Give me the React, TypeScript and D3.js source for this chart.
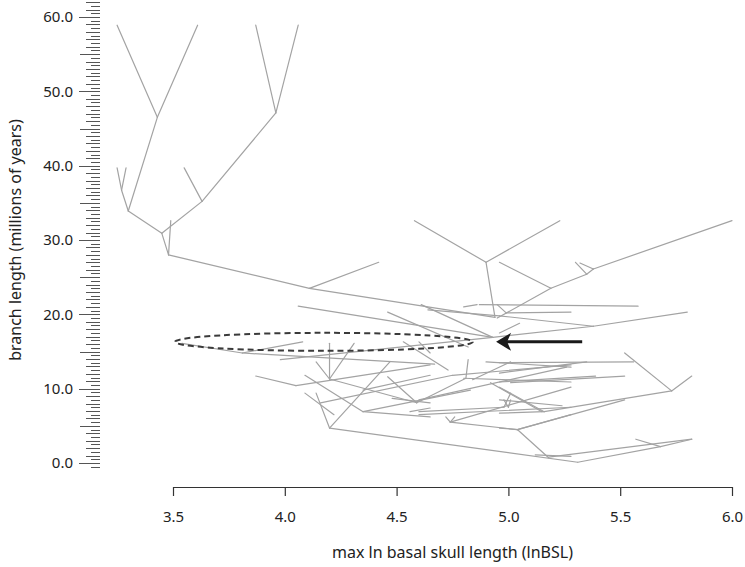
import React, { useRef, useEffect } from "react";
import * as d3 from "d3";

// each branch: [lnBSL start, Myr start, lnBSL end, Myr end]
const basalBranches = [
  [3.25, 58.9, 3.43, 46.5],
  [3.61, 58.9, 3.43, 46.5],
  [3.43, 46.5, 3.3, 33.9],
  [3.27, 36.7, 3.3, 33.9],
  [3.25, 39.7, 3.27, 36.7],
  [3.29, 39.7, 3.27, 36.7],
  [3.3, 33.9, 3.45, 30.9],
  [3.45, 30.9, 3.63, 35.2],
  [3.55, 39.7, 3.63, 35.2],
  [3.63, 35.2, 3.96, 47.1],
  [3.87, 58.9, 3.96, 47.1],
  [4.06, 58.9, 3.96, 47.1],
  [3.45, 30.9, 3.48, 28.0],
  [3.49, 32.6, 3.48, 28.0],
  [3.48, 28.0, 4.11, 23.5],
  [4.42, 27.0, 4.11, 23.5],
  [4.11, 23.5, 4.94, 19.6],
];

const upperCrown = [
  [4.9, 27.0, 4.94, 19.6],
  [4.58, 32.6, 4.9, 27.0],
  [5.23, 32.6, 4.9, 27.0],
  [4.96, 27.0, 5.19, 23.5],
  [5.19, 23.5, 5.35, 25.4],
  [5.35, 25.4, 5.38, 26.1],
  [5.38, 26.1, 6.0, 32.6],
  [5.3, 27.0, 5.35, 25.4],
  [5.32, 26.9, 5.38, 26.1],
  [5.19, 23.5, 4.95, 19.5],
  [4.87, 21.3, 5.58, 21.1],
  [4.96, 19.8, 5.38, 18.4],
  [4.93, 16.9, 5.38, 18.4],
  [5.38, 18.4, 5.8, 20.3],
  [5.05, 18.8, 4.96, 17.5],
  [4.8, 21.0, 4.86, 21.3],
  [4.95, 21.3, 4.99, 20.2],
  [4.99, 20.2, 5.28, 20.3],
  [4.64, 20.6, 4.96, 19.8],
  [4.06, 21.1, 4.93, 16.9],
  [4.46, 20.3, 4.82, 15.6],
  [4.61, 21.3, 4.93, 16.9],
];

const lowerCrown = [
  [3.54, 16.1, 3.81, 14.8],
  [4.08, 16.3, 3.81, 14.8],
  [3.81, 14.8, 4.67, 13.3],
  [3.98, 13.9, 4.93, 16.9],
  [4.14, 13.6, 4.2, 11.3],
  [4.2, 16.1, 4.2, 11.3],
  [4.31, 16.1, 4.2, 11.3],
  [4.2, 11.3, 4.59, 8.1],
  [3.87, 11.7, 4.05, 10.4],
  [4.05, 10.4, 4.65, 13.2],
  [4.09, 11.8, 4.35, 6.9],
  [4.35, 6.9, 4.65, 6.2],
  [4.47, 13.6, 4.2, 4.7],
  [4.09, 9.4, 4.22, 6.5],
  [4.14, 9.4, 4.2, 4.7],
  [4.2, 4.7, 5.31, 0.1],
  [4.35, 9.8, 4.65, 11.8],
  [4.16, 8.1, 4.75, 11.8],
  [4.46, 11.6, 4.59, 8.1],
  [4.59, 8.1, 4.81, 11.4],
  [4.35, 6.9, 4.83, 9.8],
  [4.48, 8.7, 4.65, 8.1],
  [4.56, 6.9, 4.65, 7.4],
  [4.53, 16.3, 4.73, 12.5],
  [4.6, 16.3, 4.65, 14.8],
  [4.82, 13.9, 4.81, 11.4],
  [5.01, 13.6, 4.84, 11.2],
  [4.75, 11.8, 5.28, 13.2],
  [4.9, 13.6, 5.28, 12.9],
  [4.8, 11.4, 5.28, 10.9],
  [4.6, 8.5, 5.26, 12.9],
  [4.92, 10.8, 5.15, 6.9],
  [5.01, 9.4, 4.98, 7.5],
  [4.6, 6.9, 4.98, 7.5],
  [4.6, 6.5, 5.28, 7.5],
  [4.72, 6.2, 4.74, 5.5],
  [4.76, 6.2, 4.74, 5.5],
  [4.74, 5.5, 5.28, 10.2],
  [4.74, 5.5, 5.04, 4.5],
  [5.04, 4.5, 5.28, 6.5],
  [5.04, 4.5, 5.18, 0.7],
  [5.12, 1.1, 5.28, 0.9],
];

const rightCrown = [
  [5.52, 14.8, 5.73, 9.7],
  [5.73, 9.7, 5.82, 11.7],
  [4.96, 6.7, 5.16, 6.9],
  [5.16, 6.9, 5.73, 9.7],
  [4.96, 13.5, 5.56, 13.6],
  [4.96, 12.1, 5.35, 13.6],
  [4.96, 10.9, 5.39, 11.7],
  [5.01, 10.8, 5.52, 11.7],
  [4.96, 10.2, 5.16, 6.9],
  [4.96, 8.5, 5.24, 7.7],
  [5.52, 8.5, 5.04, 4.5],
  [4.98, 8.5, 5.0, 7.5],
  [5.01, 8.5, 5.0, 7.5],
  [5.18, 0.8, 5.82, 3.2],
  [5.31, 0.1, 5.68, 2.2],
  [5.68, 2.2, 5.82, 3.2],
  [5.57, 3.2, 5.68, 2.2],
  [4.96, 4.7, 5.04, 4.5],
];

const xTicks = [3.5, 4.0, 4.5, 5.0, 5.5, 6.0];
const yTicks = [0, 10, 20, 30, 40, 50, 60];

// dashed ellipse (lnBSL / Myr units) and arrow
const highlight = { cx: 4.175, cy: 16.3, rx: 0.666, ry: 1.21 };
const arrow = { from: 5.33, to: 4.945, y: 16.3 };

const FONT = "'Noto Sans', 'Open Sans', sans-serif";

export default function App() {
  const svgRef = useRef(null);

  useEffect(() => {
    const svg = d3.select(svgRef.current);
    svg.selectAll("*").remove();

    const x = d3.scaleLinear().domain([3.5, 6.0]).range([173, 732]);
    const y = d3.scaleLinear().domain([0, 60]).range([463, 17]);

    // ruler-style y axis: ticks every 0.5 Myr
    const ruler = d3.range(-0.5, 62.01, 0.5);
    svg
      .append("g")
      .selectAll("line")
      .data(ruler)
      .enter()
      .append("line")
      .attr("x1", (d) => {
        const r = Math.round(d * 2) / 2;
        if (r % 10 === 0) return 79;
        if (r % 5 === 0) return 80;
        if (r % 1 === 0) return 86;
        return 91;
      })
      .attr("x2", 100)
      .attr("y1", (d) => Math.round(y(d)) + 0.5)
      .attr("y2", (d) => Math.round(y(d)) + 0.5)
      .style("stroke", "#555")
      .style("stroke-width", 1);

    svg
      .append("g")
      .selectAll("text")
      .data(yTicks)
      .enter()
      .append("text")
      .attr("x", 73)
      .attr("y", (d) => y(d))
      .attr("dy", "0.35em")
      .attr("text-anchor", "end")
      .style("font-family", FONT)
      .style("font-size", "15px")
      .style("fill", "#222")
      .text((d) => d3.format(".1f")(d));

    svg
      .append("text")
      .attr("transform", `translate(15, ${y(30)}) rotate(-90)`)
      .attr("text-anchor", "middle")
      .attr("dy", "0.35em")
      .style("font-family", FONT)
      .style("font-size", "16px")
      .style("fill", "#222")
      .text("branch length (millions of years)");

    // x axis
    const xAxis = d3
      .axisBottom(x)
      .tickValues(xTicks)
      .tickFormat(d3.format(".1f"))
      .tickSize(9)
      .tickSizeOuter(0)
      .tickPadding(15);

    const gx = svg.append("g").attr("transform", "translate(0, 487)").call(xAxis);
    gx.select(".domain").style("stroke", "#333").style("stroke-width", 1.2);
    gx.selectAll(".tick line").style("stroke", "#333").style("stroke-width", 1.2);
    gx.selectAll(".tick text")
      .style("font-family", FONT)
      .style("font-size", "15px")
      .style("fill", "#222");

    svg
      .append("text")
      .attr("x", x(4.75))
      .attr("y", 552)
      .attr("dy", "0.35em")
      .attr("text-anchor", "middle")
      .style("font-family", FONT)
      .style("font-size", "16px")
      .style("fill", "#222")
      .text("max ln basal skull length (lnBSL)");

    // tree branches
    const branches = [...basalBranches, ...upperCrown, ...lowerCrown, ...rightCrown];
    svg
      .append("g")
      .selectAll("line")
      .data(branches)
      .enter()
      .append("line")
      .attr("x1", (d) => x(d[0]))
      .attr("y1", (d) => y(d[1]))
      .attr("x2", (d) => x(d[2]))
      .attr("y2", (d) => y(d[3]))
      .style("stroke", "#a3a3a3")
      .style("stroke-width", 1.2)
      .style("stroke-linecap", "round");

    // dashed highlight ellipse
    svg
      .append("ellipse")
      .attr("cx", x(highlight.cx))
      .attr("cy", y(highlight.cy))
      .attr("rx", x(highlight.cx + highlight.rx) - x(highlight.cx))
      .attr("ry", y(highlight.cy - highlight.ry) - y(highlight.cy))
      .style("fill", "none")
      .style("stroke", "#3a3a3a")
      .style("stroke-width", 2)
      .style("stroke-dasharray", "6 4");

    // arrow
    const ax0 = x(arrow.from);
    const ax1 = x(arrow.to);
    const ay = y(arrow.y);
    svg
      .append("line")
      .attr("x1", ax0)
      .attr("y1", ay)
      .attr("x2", ax1 + 10)
      .attr("y2", ay)
      .style("stroke", "#1a1a1a")
      .style("stroke-width", 3);
    svg
      .append("path")
      .attr(
        "d",
        `M${ax1},${ay} L${ax1 + 15},${ay - 9} L${ax1 + 11},${ay} L${ax1 + 15},${ay + 9} Z`
      )
      .style("fill", "#1a1a1a");
  }, []);

  return (
    <svg
      ref={svgRef}
      width={745}
      height={567}
      style={{ position: "absolute", left: 0, top: 0, background: "#fff" }}
    />
  );
}
